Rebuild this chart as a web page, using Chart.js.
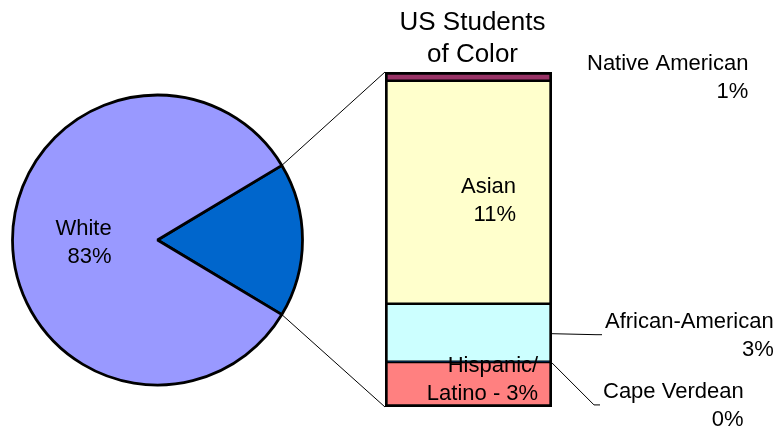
<!DOCTYPE html>
<html>
<head>
<meta charset="utf-8">
<script src="https://cdn.jsdelivr.net/npm/chart.js@4"></script>
<style>
  html, body { margin: 0; padding: 0; background: #fff; }
  #wrap { position: relative; width: 781px; height: 429px; overflow: hidden; }
  #wrap canvas { position: absolute; }
  #pieChart { left: 0; top: 90px; }
  #barChart { left: 380px; top: 66px; }
  #overlay { left: 0; top: 0; pointer-events: none; }
</style>
</head>
<body>
<div id="wrap">
  <canvas id="pieChart" width="315" height="300"></canvas>
  <canvas id="barChart" width="177" height="347"></canvas>
  <canvas id="overlay" width="781" height="429"></canvas>
</div>
<script>
// --- data ---
const titleLines = ["US Students", "of Color"];
const pieLabels = ["Students of Color", "White"];
const whiteValue = 82.8;
const whitePct = "83%";
// bottom -> top of the stacked bar
const colorLabels = ["Hispanic/\nLatino", "Cape Verdean", "African-American", "Asian", "Native American"];
const colorValues = [2.3, 0.03, 2.97, 11.45, 0.45];
const colorPcts = ["3%", "0%", "3%", "11%", "1%"];

// --- styles ---
const colorFills = ["#FF8080", "#0066CC", "#CCFFFF", "#FFFFCC", "#993366"];
const pieFills = ["#0066CC", "#9999FF"];
const FONT = '"Liberation Sans", Arial, sans-serif';
const LABEL_SIZE = 22;
const LINE_H = 28;

// label placement for each bar segment (same order as colorLabels)
const barLabelPlace = [
  { side: "inside", dx: 14, dy: -6 },
  { side: "outside", gap: 51, dy: 42, leader: true },
  { side: "outside", gap: 53, dy: 1, leader: true },
  { side: "inside", dx: 20, dy: 7 },
  { side: "outside", gap: 35, dy: 0, leader: false },
];

const colorTotal = colorValues.reduce((a, b) => a + b, 0);
const pieValues = [colorTotal, whiteValue];
const colorShare = colorTotal / (colorTotal + whiteValue);

// --- pie ---
const pieCanvas = document.getElementById("pieChart");
const pieChart = new Chart(pieCanvas, {
  type: "pie",
  data: {
    labels: pieLabels,
    datasets: [{
      data: pieValues,
      backgroundColor: pieFills,
      borderColor: "#000",
      borderWidth: 2.8,
    }],
  },
  options: {
    responsive: false,
    animation: false,
    rotation: 90 - colorShare * 180, // centre the small slice on 3 o'clock
    radius: 145,
    plugins: { legend: { display: false }, tooltip: { enabled: false } },
  },
});

// --- stacked bar ---
const barCanvas = document.getElementById("barChart");
const last = colorValues.length - 1;
const barChart = new Chart(barCanvas, {
  type: "bar",
  data: {
    labels: [""],
    datasets: colorLabels.map((lbl, i) => ({
      label: lbl,
      data: [colorValues[i]],
      backgroundColor: colorFills[i],
      borderColor: "#000",
      borderWidth: { left: 3, right: 3, top: i === last ? 3 : 1.5, bottom: i === 0 ? 3 : 1.5 },
      borderSkipped: false,
      barPercentage: 1,
      categoryPercentage: 1,
    })),
  },
  options: {
    responsive: false,
    animation: false,
    layout: { padding: { left: 5, right: 5, top: 6, bottom: 6 } },
    scales: {
      x: { display: false, stacked: true },
      y: { display: false, stacked: true, min: 0, max: colorTotal },
    },
    plugins: { legend: { display: false }, tooltip: { enabled: false } },
  },
});

// --- overlay: title, labels, leader lines ---
const ctx = document.getElementById("overlay").getContext("2d");
const capH = LABEL_SIZE * 0.716;

function drawBlock(lines, cy, opts) {
  ctx.font = `${LABEL_SIZE}px ${FONT}`;
  ctx.fillStyle = "#000";
  ctx.textBaseline = "alphabetic";
  ctx.textAlign = "right";
  const w = Math.max(...lines.map((l) => ctx.measureText(l).width));
  const right = opts.left !== undefined ? opts.left + w : opts.cx + w / 2;
  const first = cy - ((lines.length - 1) * LINE_H + capH) / 2 + capH;
  lines.forEach((l, i) => ctx.fillText(l, right, first + i * LINE_H));
}

function line(pts) {
  ctx.beginPath();
  ctx.moveTo(pts[0][0], pts[0][1]);
  pts.slice(1).forEach((p) => ctx.lineTo(p[0], p[1]));
  ctx.stroke();
}

const pieOff = [pieCanvas.offsetLeft, pieCanvas.offsetTop];
const barOff = [barCanvas.offsetLeft, barCanvas.offsetTop];

// pie -> bar connectors
const smallArc = pieChart.getDatasetMeta(0).data[0];
const topSeg = barChart.getDatasetMeta(last).data[0];
const botSeg = barChart.getDatasetMeta(0).data[0];
const barLeft = barOff[0] + topSeg.x - topSeg.width / 2;
const barRight = barOff[0] + topSeg.x + topSeg.width / 2;
const barTop = barOff[1] + topSeg.y;
const barBottom = barOff[1] + botSeg.base;
const edge = (a) => [
  pieOff[0] + smallArc.x + smallArc.outerRadius * Math.cos(a),
  pieOff[1] + smallArc.y + smallArc.outerRadius * Math.sin(a),
];
ctx.strokeStyle = "#000";
ctx.lineWidth = 1;
line([edge(smallArc.startAngle), [barLeft, barTop]]);
line([edge(smallArc.endAngle), [barLeft, barBottom]]);

// pie label (White)
const whiteArc = pieChart.getDatasetMeta(0).data[1];
const wp = whiteArc.tooltipPosition();
drawBlock([pieLabels[1], whitePct], pieOff[1] + wp.y + 1, { cx: pieOff[0] + wp.x - 1.5 });

// bar labels
colorLabels.forEach((lbl, i) => {
  const seg = barChart.getDatasetMeta(i).data[0];
  const segCy = barOff[1] + (seg.y + seg.base) / 2;
  const p = colorPcts[i];
  let lines;
  if (lbl.includes("\n")) {
    lines = lbl.split("\n");
    lines[lines.length - 1] += " - " + p;
  } else {
    lines = [lbl, p];
  }
  const place = barLabelPlace[i];
  const cy = segCy + place.dy;
  if (place.side === "inside") {
    drawBlock(lines, cy, { cx: barOff[0] + seg.x + place.dx });
  } else {
    const left = barRight + place.gap;
    drawBlock(lines, cy, { left });
    if (place.leader) {
      ctx.strokeStyle = "#000";
      ctx.lineWidth = 1;
      line([[barRight, segCy + 1], [left - 9, cy + 1], [left - 3, cy + 1]]);
    }
  }
});

// title
ctx.font = `26px ${FONT}`;
ctx.textAlign = "center";
ctx.fillStyle = "#000";
const titleX = (barLeft + barRight) / 2 + 4;
ctx.fillText(titleLines[0], titleX, barTop - 42);
ctx.fillText(titleLines[1], titleX, barTop - 10);
</script>
</body>
</html>
